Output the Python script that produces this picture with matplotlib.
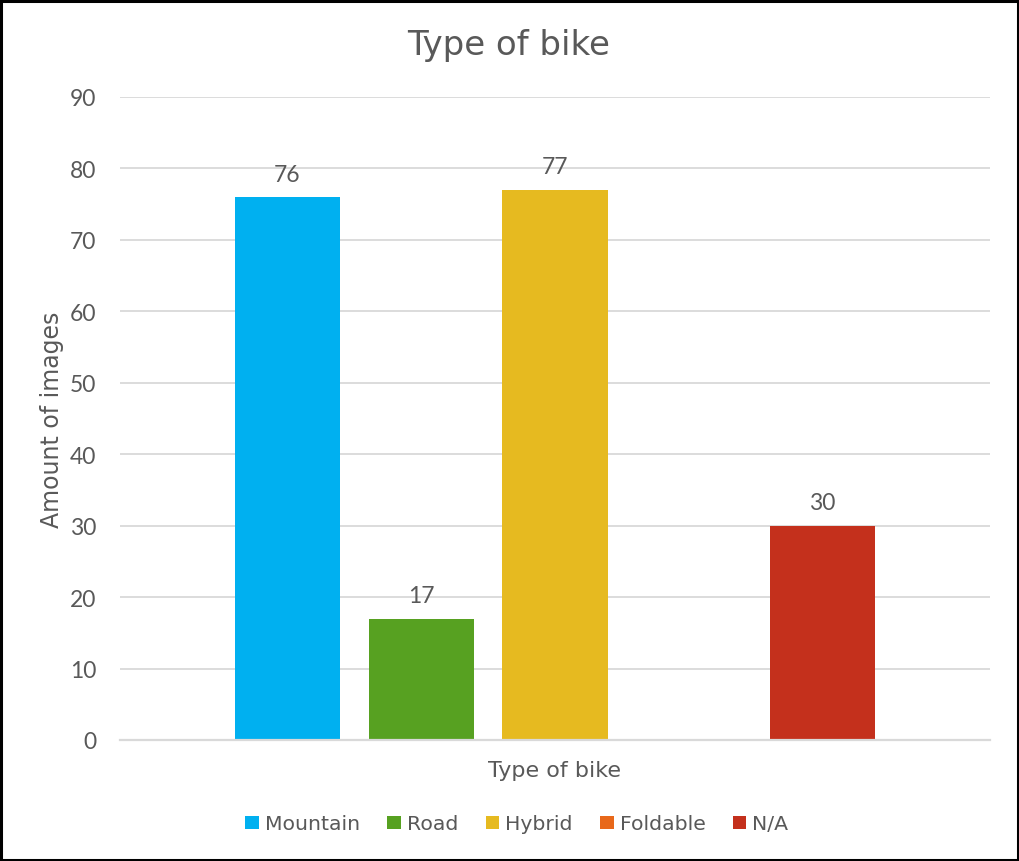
import matplotlib
matplotlib.use("Agg")
import matplotlib.pyplot as plt
from matplotlib.patches import Patch, Rectangle

categories = ["Mountain", "Road", "Hybrid", "Foldable", "N/A"]
values = [76, 17, 77, 0, 30]
colors = ["#00B0F0", "#57A121", "#E6BA20", "#E8681A", "#C4301C"]
yticks = [0, 10, 20, 30, 40, 50, 60, 70, 80, 90]
title = "Type of bike"
xlabel = "Type of bike"
ylabel = "Amount of images"

TXT = "#595959"
plt.rcParams['font.family'] = ['DejaVu Sans']

fig = plt.figure(figsize=(10.2, 8.62), dpi=100)
ax = fig.add_axes([120/1020, 1 - 741/862, 870/1020, (741-98)/862])

xs = list(range(len(categories)))
bars = ax.bar(xs, values, width=0.785, color=colors, zorder=3)
for x, v in zip(xs, values):
    if v:
        ax.annotate(str(v), (x, v), xytext=(0, 9), textcoords="offset points",
                    ha="center", va="bottom", fontsize=16.5, color=TXT,
                    family="Lato")

ax.set_xlim(-1.25, 5.25)
ax.set_ylim(0, 90)
ax.set_yticks(yticks)
ax.set_yticklabels([str(t) for t in yticks], family="Lato", fontsize=16.5, color=TXT)
ax.set_xticks([])
ax.tick_params(axis="y", length=0, pad=17)
ax.grid(axis="y", color="#D9D9D9", linewidth=1.3, zorder=0)
for s in ["top", "right", "left"]:
    ax.spines[s].set_visible(False)
ax.spines["bottom"].set_color("#D9D9D9")
ax.spines["bottom"].set_linewidth(1.6)
ax.spines["bottom"].set_zorder(4)

fig.text(509/1020, 1 - 45/862, title, ha="center", va="center", fontsize=24.5, color=TXT)
fig.text(555/1020, 1 - 771/862, xlabel, ha="center", va="center", fontsize=16, color=TXT)
fig.text(52/1020, 1 - 420/862, ylabel, ha="center", va="center", fontsize=17,
         color=TXT, rotation=90)

handles = [Patch(facecolor=c, edgecolor="none") for c in colors]
leg = fig.legend(handles, categories, loc="center", bbox_to_anchor=(517/1020, 1 - 825/862),
                 ncol=5, frameon=False, fontsize=14.7, handlelength=0.65, handleheight=0.65,
                 handletextpad=0.3, columnspacing=1.35)
for t in leg.get_texts():
    t.set_color(TXT)

fig.patches.append(Rectangle((0.001, 0.001), 0.997, 0.997, transform=fig.transFigure,
                             fill=False, edgecolor="black", linewidth=2.2))

fig.savefig("out.png", dpi=100)
